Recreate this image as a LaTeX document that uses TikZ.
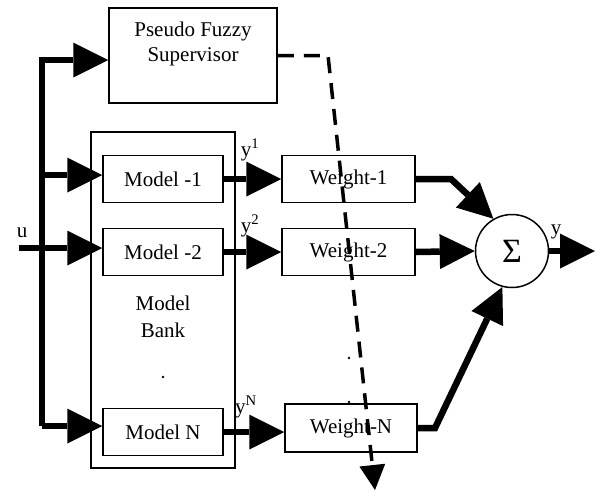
\documentclass[tikz,border=0pt]{standalone}
\usepackage{fontspec}
\setmainfont{Liberation Serif}
\usetikzlibrary{arrows.meta,calc}
\begin{document}
\begin{tikzpicture}[x=1pt,y=-1pt,
  every node/.style={font=\fontsize{21}{25}\selectfont},
  blk/.style={draw,line width=1.5pt,inner sep=0pt},
  thk/.style={line width=6.5pt,-{Triangle[length=35pt,width=35pt,line width=0pt]}},
  thkplain/.style={line width=6.5pt},
  dsh/.style={line width=3.5pt,dash pattern=on 16pt off 10pt,-{Triangle[length=25pt,width=26pt,line width=0pt]}},
  lbl/.style={inner sep=0pt},
  dotm/.style={fill,circle,inner sep=0pt,minimum size=2.8pt}]
\useasboundingbox (0,0) rectangle (596,491);
% blocks
\node[blk,minimum width=168pt,minimum height=95pt] (sup) at (193,55.5) {};
\node[lbl,align=center] (suptxt) at (193,44) {Pseudo Fuzzy\\Supervisor};
\node[blk,minimum width=144pt,minimum height=336pt] (bank) at (163,300) {};
\node[lbl,align=center,font=\fontsize{21}{27}\selectfont] (banktxt) at (163,317) {Model\\Bank};
\node[blk,minimum width=120pt,minimum height=47pt] (m1) at (163,179) {Model -1};
\node[blk,minimum width=120pt,minimum height=47pt] (m2) at (163,252) {Model -2};
\node[blk,minimum width=120pt,minimum height=47pt] (mN) at (163,432) {Model N};
\node[blk,minimum width=133pt,minimum height=47pt] (w1) at (348.5,179) {Weight-1};
\node[blk,minimum width=133pt,minimum height=47pt] (w2) at (348.5,252) {Weight-2};
\node[blk,minimum width=132pt,minimum height=48pt] (wN) at (351,428) {Weight-N};
\node[blk,circle,minimum size=73pt,font=\fontsize{34}{36}\selectfont] (sig) at (512,251) {Σ};
% dots
\node[dotm] (d0) at (163,377) {};
\node[dotm] (d1) at (349,358) {};
\node[dotm] (d2) at (349,402) {};
% labels
\node[lbl] (ul) at (22,233) {u};
\node[lbl] (y1) at (250,150) {y\textsuperscript{1}};
\node[lbl] (y2) at (250,226) {y\textsuperscript{2}};
\node[lbl] (yN) at (246,407) {y\textsuperscript{N}};
\node[lbl] (yo) at (556,232) {y};
% coordinates
\coordinate (bt) at (42,60);
\coordinate (bb) at (42,426);
\coordinate (b1) at (42,175);
\coordinate (uin) at (19,248);
\coordinate (k1) at (451,179);
\coordinate (kN) at (435,428);
\coordinate (out) at (595,251);
\coordinate (dc) at (328,55.5);
\coordinate (de) at (375,490);
% connectors
\draw[thk] (bb) -- (bt) -- (bt -| sup.west);
\draw[thk] (bb) -- (bb -| mN.west);
\draw[thk] (b1) -- (b1 -| m1.west);
\draw[thk] (uin) -- (uin -| m2.west);
\draw[thk] (m1.east) -- (w1.west);
\draw[thk] (m2.east) -- (w2.west);
\draw[thk] (mN.east) -- (mN.east -| wN.west);
\draw[thk] (w1.east) -- (k1) -- (sig.120);
\draw[thk] (w2.east) -- (sig.west);
\draw[thk] (wN.east) -- (kN) -- (sig.255);
\draw[thk] (sig.east) -- (out);
\draw[dsh] (sup.east) -- (dc) -- (de);
\end{tikzpicture}
\end{document}
